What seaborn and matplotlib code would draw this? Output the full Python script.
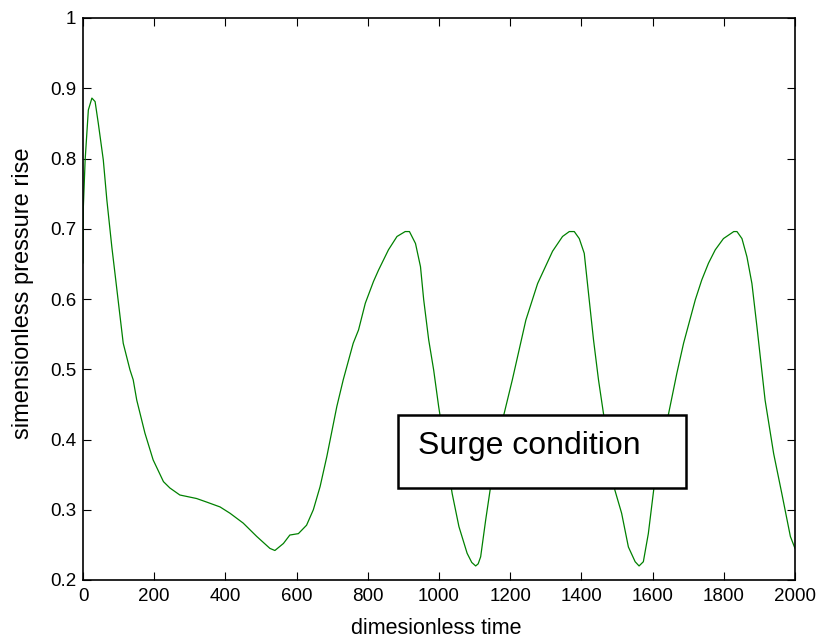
import matplotlib
matplotlib.use("Agg")
import matplotlib.pyplot as plt
from matplotlib.patches import Rectangle
import seaborn as sns
import pandas as pd

# Data
time = [0, 1, 6, 15, 25, 34, 43, 57, 67, 81, 92, 102, 113, 132, 141, 151, 174, 197,
        226, 244, 272, 319, 347, 385, 413, 450, 488, 525, 539, 563, 581, 605, 628,
        647, 666, 685, 713, 731, 759, 774, 793, 816, 830, 858, 882, 905, 917, 934,
        948, 957, 971, 985, 999, 1018, 1037, 1056, 1079, 1092, 1103, 1110, 1117, 1131, 1145,
        1159, 1183, 1206, 1244, 1277, 1319, 1347, 1366, 1380, 1394, 1408, 1420,
        1434, 1448, 1462, 1494, 1513, 1532, 1551, 1562, 1574, 1588, 1603, 1626,
        1645, 1668, 1687, 1720, 1738, 1757, 1776, 1799, 1828, 1837, 1851, 1865,
        1879, 1893, 1916, 1940, 1963, 1987, 2000]
pressure = [0.651, 0.731, 0.798, 0.869, 0.886, 0.881, 0.850, 0.798, 0.741, 0.674,
            0.627, 0.584, 0.537, 0.499, 0.485, 0.456, 0.409, 0.371, 0.340, 0.331,
            0.321, 0.316, 0.311, 0.304, 0.295, 0.281, 0.262, 0.245, 0.242, 0.252,
            0.264, 0.266, 0.278, 0.300, 0.333, 0.376, 0.447, 0.485, 0.537, 0.556,
            0.594, 0.625, 0.641, 0.670, 0.689, 0.696, 0.696, 0.679, 0.646, 0.599,
            0.542, 0.499, 0.447, 0.385, 0.323, 0.276, 0.238, 0.225, 0.220, 0.223, 0.233, 0.285,
            0.333, 0.394, 0.437, 0.485, 0.570, 0.622, 0.668, 0.689, 0.696, 0.696,
            0.686, 0.665, 0.608, 0.542, 0.485, 0.437, 0.328, 0.295, 0.247, 0.226,
            0.220, 0.226, 0.266, 0.328, 0.399, 0.437, 0.494, 0.537, 0.599, 0.627,
            0.651, 0.670, 0.686, 0.696, 0.696, 0.686, 0.660, 0.622, 0.561, 0.456,
            0.380, 0.323, 0.262, 0.245]

x_ticks = [0, 200, 400, 600, 800, 1000, 1200, 1400, 1600, 1800, 2000]
x_ticklabels = ["0", "200", "400", "600", "800", "1000", "1200", "1400", "1600", "1800", "2000"]
y_ticks = [0.2, 0.3, 0.4, 0.5, 0.6, 0.7, 0.8, 0.9, 1.0]
y_ticklabels = ["0.2", "0.3", "0.4", "0.5", "0.6", "0.7", "0.8", "0.9", "1"]
annotation = "Surge condition"
x_label = "dimesionless time"
y_label = "simensionless pressure rise"

df = pd.DataFrame({"time": time, "pressure": pressure})

sns.set_theme(style="white")
plt.rcParams["font.family"] = ["Liberation Sans", "DejaVu Sans"]

fig = plt.figure(figsize=(8.21, 6.41), dpi=100)
ax = fig.add_axes([83 / 821, 1 - 580 / 641, (795 - 83) / 821, (580 - 18) / 641])

sns.lineplot(data=df, x="time", y="pressure", ax=ax, color="#008000",
             linewidth=0.9, estimator=None, sort=False)

ax.set_xlim(0, 2000)
ax.set_ylim(0.2, 1.0)
ax.set_xticks(x_ticks)
ax.set_xticklabels(x_ticklabels)
ax.set_yticks(y_ticks)
ax.set_yticklabels(y_ticklabels)
ax.tick_params(direction="in", length=6, width=0.8, colors="black",
               labelsize=13.5, top=True, right=True, bottom=True, left=True)
ax.tick_params(axis="x", pad=6)
ax.tick_params(axis="y", pad=5)
for sp in ax.spines.values():
    sp.set_visible(True)
    sp.set_color("black")
    sp.set_linewidth(1.2)

ax.set_xlabel("")
ax.set_ylabel("")
fig.text(436 / 821, 1 - 628 / 641, x_label, fontsize=15.5, color="black",
         ha="center", va="center")
fig.text(23 / 821, 1 - 293 / 641, y_label, fontsize=17, color="black",
         ha="center", va="center", rotation=90)

# annotation box
rect = Rectangle((398 / 821, 1 - 488 / 641), (686 - 398) / 821, (488 - 415) / 641,
                 transform=fig.transFigure, facecolor="white", edgecolor="black",
                 linewidth=1.8, zorder=5)
fig.patches.append(rect)
fig.text(418 / 821, 1 - 446 / 641, annotation, fontsize=23, color="black",
         va="center", ha="left", zorder=6)

fig.savefig("out.png", dpi=100)
